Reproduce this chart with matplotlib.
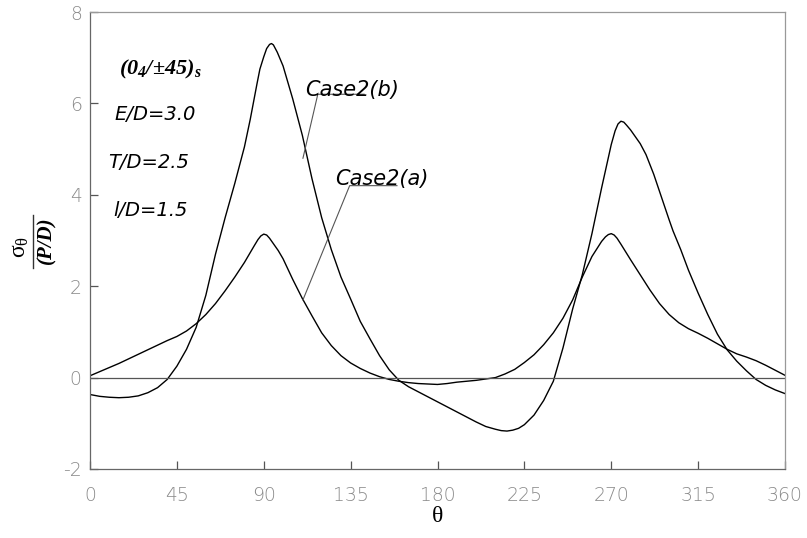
import matplotlib
matplotlib.use("Agg")
import matplotlib.pyplot as plt
from matplotlib.lines import Line2D

plt.rcParams['mathtext.fontset'] = 'custom'
plt.rcParams['mathtext.rm'] = 'Liberation Serif'
plt.rcParams['mathtext.it'] = 'Liberation Serif:italic'
plt.rcParams['mathtext.bf'] = 'Liberation Serif:bold'
plt.rcParams['mathtext.bfit'] = 'Liberation Serif:italic:bold'
plt.rcParams['axes.unicode_minus'] = False

theta_b = [0, 5, 10, 15, 20, 25, 30, 35, 40, 45, 50, 55, 60, 62.5, 65, 70, 75, 80, 83, 86.5, 88,
           90, 91.5, 93, 94, 95, 97, 100, 105, 110, 115, 120, 125, 130, 135, 140, 145, 150, 155,
           160, 165, 170, 175, 180, 185, 190, 195, 200, 205, 210, 213, 216, 219, 222, 225, 230,
           235, 240, 245, 250, 255, 260, 265, 270, 272, 273.5, 275, 276.5, 278, 280, 282, 285,
           288, 292, 296, 300, 302, 306, 310, 315, 320, 325, 330, 335, 340, 345, 350, 355, 360]
case2b = [-0.37, -0.41, -0.43, -0.44, -0.43, -0.40, -0.33, -0.22, -0.04, 0.25, 0.62, 1.10, 1.80,
          2.25, 2.70, 3.50, 4.25, 5.05, 5.65, 6.43, 6.75, 7.02, 7.20, 7.29, 7.31, 7.28, 7.12, 6.82,
          6.10, 5.30, 4.35, 3.50, 2.80, 2.20, 1.72, 1.23, 0.85, 0.48, 0.17, -0.06, -0.20, -0.31,
          -0.42, -0.53, -0.64, -0.75, -0.86, -0.97, -1.07, -1.13, -1.16, -1.17, -1.15, -1.11,
          -1.03, -0.82, -0.50, -0.08, 0.65, 1.50, 2.25, 3.15, 4.15, 5.10, 5.40, 5.55, 5.61, 5.59,
          5.52, 5.42, 5.30, 5.12, 4.88, 4.45, 3.95, 3.45, 3.21, 2.80, 2.35, 1.85, 1.38, 0.95,
          0.61, 0.36, 0.15, -0.04, -0.17, -0.27, -0.35]

theta_a = [0, 5, 10, 15, 20, 25, 30, 35, 40, 45, 50, 55, 60, 65, 70, 75, 80, 85, 87, 88.5, 90,
           91.5, 93, 95, 97.5, 100, 105, 110, 115, 120, 125, 130, 135, 140, 145, 150, 155, 160,
           165, 170, 175, 180, 185, 190, 195, 200, 205, 210, 215, 220, 225, 230, 235, 240, 245,
           250, 255, 260, 265, 267, 268.5, 270, 271.5, 273, 275, 277.5, 280, 285, 290, 295, 300,
           305, 310, 315, 320, 325, 330, 335, 340, 345, 350, 355, 360]
case2a = [0.04, 0.13, 0.22, 0.31, 0.41, 0.51, 0.61, 0.71, 0.81, 0.90, 1.02, 1.18, 1.38, 1.62,
          1.90, 2.20, 2.52, 2.88, 3.02, 3.10, 3.14, 3.12, 3.05, 2.93, 2.78, 2.60, 2.15, 1.73,
          1.35, 0.98, 0.70, 0.48, 0.32, 0.20, 0.10, 0.02, -0.04, -0.08, -0.11, -0.13, -0.14,
          -0.15, -0.13, -0.10, -0.08, -0.06, -0.03, 0.00, 0.08, 0.18, 0.33, 0.50, 0.72, 0.98,
          1.30, 1.70, 2.20, 2.65, 2.98, 3.08, 3.13, 3.15, 3.12, 3.05, 2.92, 2.75, 2.58, 2.25,
          1.92, 1.62, 1.38, 1.20, 1.07, 0.97, 0.86, 0.74, 0.62, 0.52, 0.45, 0.37, 0.27, 0.16,
          0.05]

xticks = [0, 45, 90, 135, 180, 225, 270, 315, 360]
yticks = [-2, 0, 2, 4, 6, 8]
params = ["E/D=3.0", "T/D=2.5", "l/D=1.5"]

W, H = 807, 538
fig = plt.figure(figsize=(W / 100, H / 100), dpi=100)
ax = fig.add_axes([90 / W, 1 - 469 / H, 695 / W, 457 / H])

ax.plot(theta_b, case2b, color='black', lw=1.0)
ax.plot(theta_a, case2a, color='black', lw=1.0)
ax.axhline(0, color='#555555', lw=0.9)

ax.set_xlim(0, 360)
ax.set_ylim(-2, 8)
ax.set_xticks(xticks)
ax.set_yticks(yticks)
ax.tick_params(direction='in', length=6, width=0.9, color='#555555',
               labelcolor='#8a8a8a', labelsize=13.5)
ax.tick_params(axis='x', pad=12)
ax.tick_params(axis='y', pad=6)
for lab in ax.get_xticklabels() + ax.get_yticklabels():
    lab.set_family('DejaVu Sans')
    lab.set_fontweight('light')
ax.spines['left'].set_color('#666666')
ax.spines['bottom'].set_color('#666666')
ax.spines['top'].set_color('#999999')
ax.spines['right'].set_color('#999999')
for s in ax.spines.values():
    s.set_linewidth(0.9)

ax.set_xlabel('θ', fontsize=17, family='Liberation Serif', labelpad=1)

# y label drawn as a rotated fraction
fig.text(19 / W, 1 - 247 / H, r'$\mathrm{\sigma_\theta}$', fontsize=17, rotation=90,
         ha='center', va='center')
fig.text(46 / W, 1 - 240 / H, '(P/D)', fontsize=15, rotation=90, family='Liberation Serif',
         style='italic', weight='bold', ha='center', va='center')
fig.add_artist(Line2D([33 / W, 33 / W], [1 - 215 / H, 1 - 268 / H], color='#333333', lw=1.0))

# left parameter texts
ax.text(14.8, 6.75, r'(0$_{\mathbfit{4}}$/±45)$_{\mathbfit{s}}$', fontsize=16,
        family='Liberation Serif', style='italic', weight='bold', ha='left', va='center')
ys = [5.75, 4.7, 3.65]
xs = [12.7, 9.6, 11.9]
for x, y, t in zip(xs, ys, params):
    ax.text(x, y, t, fontsize=14, style='italic', family='DejaVu Sans', ha='left', va='center')

# case labels with leader lines
ax.text(111.5, 6.3, 'Case2(b)', fontsize=15, style='italic', family='DejaVu Sans',
        ha='left', va='center')
ax.plot([142, 118, 110.3], [6.2, 6.2, 4.8], color='#555555', lw=0.8)
ax.text(127, 4.35, 'Case2(a)', fontsize=15, style='italic', family='DejaVu Sans',
        ha='left', va='center')
ax.plot([159, 134.5, 110.3], [4.2, 4.2, 1.7], color='#555555', lw=0.8)

fig.savefig('out.png', dpi=100)
